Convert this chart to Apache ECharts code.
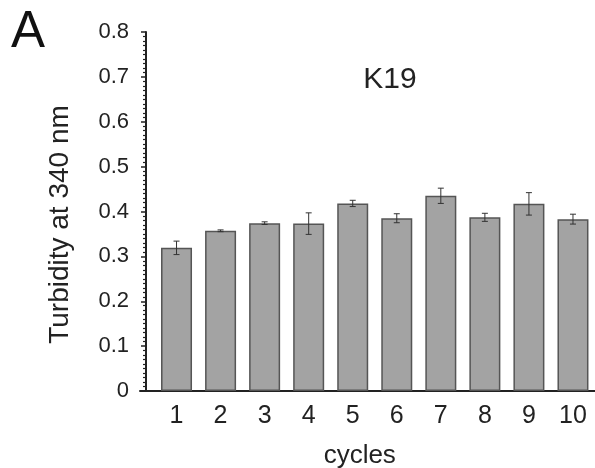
<!DOCTYPE html>
<html>
<head>
<meta charset="utf-8">
<script src="https://cdn.jsdelivr.net/npm/echarts@6/dist/echarts.min.js"></script>
<style>
  html, body { margin: 0; padding: 0; background: #fff; }
  #chart { width: 595px; height: 468px; }
</style>
</head>
<body>
<div id="chart"></div>
<script>
// K19 turbidity per cycle
const cycles = ['1', '2', '3', '4', '5', '6', '7', '8', '9', '10'];
const turbidity = [0.319, 0.357, 0.374, 0.373, 0.418, 0.385, 0.435, 0.387, 0.417, 0.383];
const errors = [0.015, 0.002, 0.003, 0.024, 0.007, 0.010, 0.017, 0.009, 0.025, 0.011];
const yTicks = [0, 0.1, 0.2, 0.3, 0.4, 0.5, 0.6, 0.7, 0.8];

const font = "'Liberation Sans', Arial, sans-serif";
const ink = '#222';

let errData = cycles.map((c, i) => [i, turbidity[i] - errors[i], turbidity[i] + errors[i]]);

let option = {
  animation: false,
  graphic: [
    {
      type: 'text', left: 11, top: 7,
      style: { text: 'A', fontSize: 51, fontFamily: font, fill: '#111' }
    }
  ],
  title: {
    text: 'K19',
    left: 385, top: 60,
    textAlign: 'center',
    textStyle: { fontSize: 30, fontWeight: 'normal', fontFamily: font, color: ink }
  },
  grid: [
    { left: 154.5, right: 0, top: 32, bottom: 77, outerBoundsMode: 'none', containLabel: false },
    { left: 140, right: 0, top: 32, bottom: 77, outerBoundsMode: 'none', containLabel: false }
  ],
  xAxis: [
    {
      type: 'category',
      gridIndex: 0,
      data: cycles,
      name: 'cycles',
      nameLocation: 'middle',
      nameGap: 52,
      nameTextStyle: { fontSize: 26, fontFamily: font, color: ink, padding: [0, 30, 0, 0] },
      axisLine: { show: false },
      axisTick: { show: false },
      axisLabel: { fontSize: 25, fontFamily: font, color: ink, margin: 13 }
    },
    {
      // full-width baseline that runs a little past the y axis
      type: 'value',
      gridIndex: 1,
      min: 0, max: 1,
      axisLine: { show: true, lineStyle: { color: ink, width: 2 } },
      axisTick: { show: false },
      axisLabel: { show: false },
      splitLine: { show: false }
    }
  ],
  yAxis: [
    {
      type: 'value',
      gridIndex: 0,
      min: 0, max: 0.8, interval: 0.1,
      offset: 8.5,
      name: 'Turbidity at 340 nm',
      nameLocation: 'middle',
      nameGap: 72,
      nameTextStyle: { fontSize: 28, fontFamily: font, color: ink, padding: [0, 26, 0, 0] },
      axisLine: { show: true, lineStyle: { color: ink, width: 2 } },
      axisTick: { show: true, length: 5, lineStyle: { color: ink, width: 1.5 } },
      minorTick: { show: true, splitNumber: 10, length: 3, lineStyle: { color: ink, width: 1.2 } },
      splitLine: { show: false },
      axisLabel: {
        fontSize: 22, fontFamily: font, color: ink, margin: 17,
        formatter: v => {
          let t = yTicks.find(x => Math.abs(x - v) < 1e-6);
          return t === undefined ? '' : String(t);
        }
      }
    },
    {
      type: 'value', gridIndex: 1, show: false, min: 0, max: 1
    }
  ],
  series: [
    {
      name: 'K19',
      type: 'bar',
      xAxisIndex: 0, yAxisIndex: 0,
      barWidth: 31,
      data: turbidity,
      itemStyle: { color: '#a3a3a3', borderColor: '#555', borderWidth: 1.5 }
    },
    {
      type: 'custom',
      xAxisIndex: 0, yAxisIndex: 0,
      data: errData,
      z: 5,
      renderItem: function (params, api) {
        let x = api.value(0);
        let lo = api.coord([x, api.value(1)]);
        let hi = api.coord([x, api.value(2)]);
        let cap = 3;
        let st = { stroke: '#333', lineWidth: 1 };
        return {
          type: 'group',
          children: [
            { type: 'line', shape: { x1: lo[0], y1: lo[1], x2: hi[0], y2: hi[1] }, style: st },
            { type: 'line', shape: { x1: lo[0] - cap, y1: lo[1], x2: lo[0] + cap, y2: lo[1] }, style: st },
            { type: 'line', shape: { x1: hi[0] - cap, y1: hi[1], x2: hi[0] + cap, y2: hi[1] }, style: st }
          ]
        };
      }
    }
  ]
};

let myChart = echarts.init(document.getElementById('chart'));
myChart.setOption(option);
</script>
</body>
</html>
